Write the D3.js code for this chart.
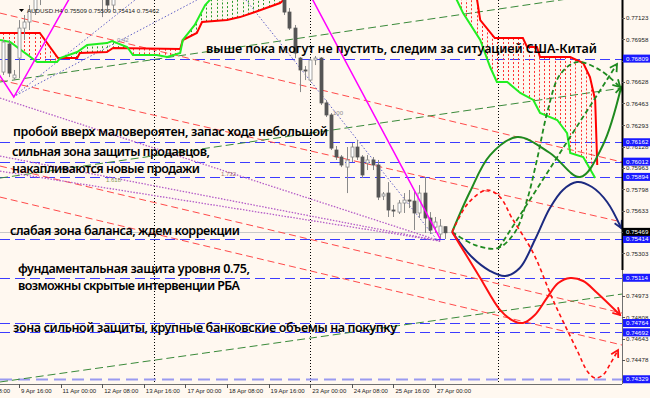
<!DOCTYPE html>
<html><head><meta charset="utf-8">
<script src="https://cdn.jsdelivr.net/npm/d3@7"></script>
<style>
html,body{margin:0;padding:0;background:#fff8f0;}
svg{display:block;}
</style></head><body>
<svg id="c" width="650" height="398"></svg>
<script>
// ---------------- DATA ----------------
const symbol = "AUDUSD.H4";
const lastBarOHLC = [0.75509, 0.75509, 0.75414, 0.75462];
const bidPrice = 0.75469;

const priceTicks = [0.77123,0.76958,0.76793,0.76628,0.76463,0.76293,0.76128,0.75963,0.75798,0.75633,0.75468,0.75303,0.75138,0.74973,0.74808,0.74643,0.74478,0.74313];
const timeTickIdx = [-8,0,8,16,24,32,40,48,56,64,72,80];
const timeTickLabels = ["6 Apr 08:00","9 Apr 16:00","11 Apr 00:00","12 Apr 08:00","13 Apr 16:00","17 Apr 00:00","18 Apr 08:00","19 Apr 16:00","23 Apr 00:00","24 Apr 08:00","25 Apr 16:00","27 Apr 00:00"];
const weekSeparators = [26, 56, 92.1];

const levelPrices = [0.76809,0.76162,0.76012,0.75894,0.75414,0.75114,0.74764,0.74692,0.74329];

// candles: [barIndex, open, high, low, close]
const candles = [
 [-3,0.76705,0.76953,0.76682,0.76937],[-2,0.76922,0.76953,0.76666,0.76697],[-1,0.76659,0.76721,0.76643,0.76682],
 [0,0.76813,0.77107,0.76659,0.77045],[1,0.77045,0.77146,0.76953,0.77092],[2,0.77092,0.77223,0.77030,0.77185],
 [3,0.77185,0.77339,0.77146,0.77301],[4,0.77301,0.77417,0.77223,0.77378],
 [16,0.77301,0.77378,0.77130,0.77285],[17,0.77285,0.77339,0.77169,0.77223],[18,0.77223,0.77301,0.77185,0.77324],
 [51,0.77339,0.77417,0.77146,0.77169],[52,0.77169,0.77200,0.77030,0.77045],[53,0.77045,0.77069,0.76813,0.76852],
 [54,0.76813,0.76821,0.76550,0.76721],[55,0.76721,0.76752,0.76643,0.76713],[56,0.76643,0.76813,0.76628,0.76798],
 [57,0.76798,0.76829,0.76759,0.76813],[58,0.76813,0.76821,0.76450,0.76466],[59,0.76466,0.76489,0.76357,0.76373],
 [60,0.76373,0.76388,0.76102,0.76117],[61,0.76102,0.76133,0.76025,0.76048],[62,0.76048,0.76063,0.75970,0.75986],
 [63,0.75970,0.76125,0.75769,0.76025],[64,0.76048,0.76156,0.76009,0.76125],[65,0.76125,0.76179,0.76025,0.76048],
 [66,0.76048,0.76063,0.75885,0.75909],[67,0.76001,0.76063,0.75947,0.76025],[68,0.76025,0.76048,0.75947,0.75986],
 [69,0.75986,0.76025,0.75715,0.75738],[70,0.75746,0.75777,0.75715,0.75762],[71,0.75769,0.75854,0.75584,0.75638],
 [72,0.75638,0.75677,0.75584,0.75630],[73,0.75622,0.75715,0.75607,0.75692],[74,0.75692,0.75769,0.75615,0.75715],
 [75,0.75715,0.75793,0.75653,0.75707],[76,0.75707,0.75793,0.75483,0.75615],[77,0.75615,0.75831,0.75576,0.75769],
 [78,0.75769,0.75893,0.75460,0.75576],[79,0.75576,0.75622,0.75452,0.75483],[80,0.75506,0.75584,0.75460,0.75545],
 [81,0.75452,0.75568,0.75414,0.75514],[82,0.75509,0.75509,0.75414,0.75462]
];

// Ichimoku cloud borders: [barIndex, price]
const spanRed = [[-3.65,0.77007],[4.0,0.77007],[7.5,0.76813],[11.2,0.76813],[11.7,0.76852],[16.9,0.76860],[18.1,0.76891],[31.0,0.76883],[31.5,0.76953],[34.2,0.77007],[35.2,0.77092],[40.0,0.77107],[42.5,0.77130],[45.4,0.77169],[50.2,0.77239],[52.1,0.77301],[86.7,0.77339],[88.1,0.77262],[88.7,0.77107],[91.5,0.76968],[96.9,0.76968],[97.7,0.76899],[99.6,0.76899],[100.2,0.76821],[106.0,0.76821],[108.5,0.76775],[109.8,0.76666],[110.8,0.76489],[111.2,0.75986]];
const spanGreen = [[-3.65,0.76953],[-1.7,0.76937],[3.5,0.76782],[7.3,0.76782],[7.9,0.76813],[11.2,0.76860],[13.1,0.76914],[16.9,0.76929],[17.9,0.76945],[20.8,0.76899],[21.9,0.76837],[26.5,0.76837],[28.5,0.76821],[31.0,0.76852],[31.5,0.76953],[33.8,0.77069],[35.8,0.77223],[36.7,0.77262],[37.7,0.77339],[82.9,0.77339],[84.2,0.77262],[85.4,0.77161],[88.7,0.76953],[90.6,0.76744],[91.9,0.76628],[93.9,0.76628],[96.4,0.76543],[98.9,0.76489],[100.2,0.76388],[103.5,0.76334],[105.4,0.76233],[106.0,0.76079],[108.5,0.76048],[110.8,0.75885]];

// trend lines: [[idx, price],[idx, price]]
const trendRed = [
 [[-3.65,0.77161],[115.96,0.76009]],
 [[-3.65,0.76643],[115.96,0.75545]],
 [[-3.65,0.75978],[115.96,0.74841]],
 [[-3.65,0.75738],[115.96,0.74594]]
];
const trendGreen = [
 [[-3.65,0.76628],[115.96,0.77332]],
 [[-3.65,0.75885],[115.96,0.76581]],
 [[-3.65,0.74308],[115.96,0.74988]]
];
const fanPurple = [
 [[-3.65,0.75939],[81.0,0.75398]],
 [[-3.65,0.76055],[81.0,0.75398]],
 [[-3.65,0.76504],[81.0,0.75398]]
];
const fanBlue = [
 [[43.65,0.77262],[80.4,0.75406]],
 [[-1.15,0.76512],[34.2,0.77262]],
 [[-1.15,0.76512],[22.3,0.77262]]
];
const zigzag = [[-6,0.76821],[-1,0.76512],[22,0.7815],[31,0.7760],[45,0.7813],[81,0.75414]];

// forecast paths
const fcGreen = [[83.3,0.75468],[86.7,0.75777],[90.6,0.76063],[95.8,0.76202],[102.1,0.76079],[107.9,0.75893],[112.3,0.76141],[115.8,0.76589]];
const fcGreenDash = [[83.3,0.75468],[87.7,0.75367],[92.1,0.75344],[95.4,0.75468],[97.7,0.75715],[99.6,0.76025],[101.7,0.76411],[104.0,0.76682],[107.3,0.76782],[111.7,0.76721],[115.6,0.76589]];
const fcGreenStraight = [[92.3,0.75344],[115.0,0.76767]];
const fcNavy = [[83.3,0.75468],[87.1,0.75274],[90.6,0.75166],[93.5,0.75127],[96.3,0.75189],[99.2,0.75406],[102.1,0.75653],[104.6,0.75793],[107.3,0.75854],[110.2,0.75816],[113.1,0.75700],[115.8,0.75499]];
const fcRed = [[83.3,0.75468],[86.0,0.75290],[88.7,0.75112],[92.5,0.74865],[94.8,0.74787],[96.9,0.74764],[99.2,0.74826],[101.5,0.74957],[103.7,0.75073],[106.0,0.75112],[108.5,0.75089],[111.2,0.74996],[115.6,0.74826]];
const fcRedDash = [[83.3,0.75468],[86.4,0.75692],[90.0,0.75793],[92.5,0.75738],[94.8,0.75576],[98.9,0.75305],[102.7,0.74942],[107.3,0.74555],[109.4,0.74385],[110.8,0.74339],[112.3,0.74362],[113.8,0.74455],[115.2,0.74555]];

const notes = ["выше пока могут не пустить, следим за ситуацией США-Китай",
 "пробой вверх маловероятен, запас хода небольшой",
 "сильная зона защиты продавцов,",
 "накапливаются новые продажи",
 "слабая зона баланса, ждем коррекции",
 "фундаментальная защита уровня 0.75,",
 "возможны скрытые интервенции РБА",
 "зона сильной защиты, крупные банковские объемы на покупку"];
const fibLabels = ["0.42","100","1.618","1.732"];

// ---------------- DRAW ----------------
const W = 650, H = 398, PR = 622, PB = 384;
const svg = d3.select("#c");
const xS = d3.scaleLinear().domain([0, 80]).range([19, 435]);
const yS = d3.scaleLinear().domain([0.74478, 0.77123]).range([360, 18]);
const fmt = d3.format(".5f");

svg.append("rect").attr("width", W).attr("height", H).attr("fill", "#fff8f0");
const defs = svg.append("defs");
defs.append("clipPath").attr("id", "plot").append("rect").attr("x", 0).attr("y", 0).attr("width", PR).attr("height", PB);
function marker(id, color) {
  defs.append("marker").attr("id", id).attr("markerUnits", "userSpaceOnUse")
    .attr("viewBox", "-10 -6 12 12").attr("refX", 0).attr("refY", 0)
    .attr("markerWidth", 12).attr("markerHeight", 12).attr("orient", "auto")
    .append("path").attr("d", "M-7,-4 L0,0 L-7,4").attr("fill", "none")
    .attr("stroke", color).attr("stroke-width", 1.8).attr("stroke-dasharray", "none");
}
marker("aG", "#1f8a1f"); marker("aN", "#1c2a80"); marker("aR", "#ff1010");

const g = svg.append("g").attr("clip-path", "url(#plot)");
const line = d3.line().x(d => xS(d[0])).y(d => yS(d[1]));
const smooth = d3.line().x(d => xS(d[0])).y(d => yS(d[1])).curve(d3.curveCatmullRom.alpha(0.5));

// week separators
g.selectAll(".sep").data(weekSeparators).join("line")
  .attr("x1", d => Math.round(xS(d)) + 0.5).attr("x2", d => Math.round(xS(d)) + 0.5)
  .attr("y1", 0).attr("y2", PB).attr("stroke", "#000").attr("stroke-dasharray", "1,2");

// bid line
g.append("line").attr("x1", 0).attr("x2", PR).attr("y1", Math.round(yS(bidPrice)) + 0.5).attr("y2", Math.round(yS(bidPrice)) + 0.5)
  .attr("stroke", "#c8c8c8");

// horizontal levels
g.selectAll(".lvl").data(levelPrices).join("line")
  .attr("x1", 0).attr("x2", PR)
  .attr("y1", d => Math.round(yS(d)) + 0.5).attr("y2", d => Math.round(yS(d)) + 0.5)
  .attr("stroke", (d, i) => i === levelPrices.length - 1 ? "#9a9af0" : "#3c3cff")
  .attr("stroke-width", (d, i) => i === levelPrices.length - 1 ? 2 : 1)
  .attr("stroke-dasharray", (d, i) => i === levelPrices.length - 1 ? "12,6" : "10,5");

// trend lines
g.selectAll(".tr").data(trendRed).join("path").attr("d", line)
  .attr("fill", "none").attr("stroke", "#ff4a4a").attr("stroke-dasharray", "7,4");
g.selectAll(".tg").data(trendGreen).join("path").attr("d", line)
  .attr("fill", "none").attr("stroke", "#3a8a3a").attr("stroke-dasharray", "8,4");
g.selectAll(".fp").data(fanPurple).join("path").attr("d", line)
  .attr("fill", "none").attr("stroke", "#b45cc8").attr("stroke-width", 1.3).attr("stroke-dasharray", "1.5,1.5");
g.selectAll(".fb").data(fanBlue).join("path").attr("d", line)
  .attr("fill", "none").attr("stroke", "#6060c8").attr("stroke-dasharray", "1.5,2");

// ichimoku cloud hatch
function interp(arr, t) {
  if (t < arr[0][0] || t > arr[arr.length - 1][0]) return null;
  for (let k = 0; k < arr.length - 1; k++) {
    const a = arr[k], b = arr[k + 1];
    if (t >= a[0] && t <= b[0]) return a[1] + (b[1] - a[1]) * (t - a[0]) / (b[0] - a[0] || 1);
  }
  return null;
}
const hatch = [];
for (let i = -3; i <= 111; i++) {
  const r = interp(spanRed, i), gg = interp(spanGreen, i);
  if (r !== null && gg !== null && Math.abs(r - gg) > 1e-6) hatch.push([i, r, gg]);
}
g.selectAll(".h").data(hatch).join("line")
  .attr("x1", d => Math.round(xS(d[0])) + 0.5).attr("x2", d => Math.round(xS(d[0])) + 0.5)
  .attr("y1", d => yS(d[1])).attr("y2", d => yS(d[2]))
  .attr("stroke", d => d[1] > d[2] ? "#ff3030" : "#2a9a2a").attr("stroke-dasharray", "2,2");
g.append("path").datum(spanRed).attr("d", line).attr("fill", "none").attr("stroke", "#ff0000").attr("stroke-width", 2);
g.append("path").datum(spanGreen).attr("d", line).attr("fill", "none").attr("stroke", "#22ee22").attr("stroke-width", 2);

// candles
const cg = g.selectAll(".cd").data(candles).join("g");
cg.append("line").attr("x1", d => Math.round(xS(d[0])) + 0.5).attr("x2", d => Math.round(xS(d[0])) + 0.5)
  .attr("y1", d => yS(d[2])).attr("y2", d => yS(d[3])).attr("stroke", "#8a8a8a");
cg.append("rect").attr("x", d => Math.round(xS(d[0])) - 1).attr("width", 3)
  .attr("y", d => yS(Math.max(d[1], d[4]))).attr("height", d => Math.max(1, Math.abs(yS(d[1]) - yS(d[4]))))
  .attr("fill", d => d[4] >= d[1] ? "#ffffff" : "#555555")
  .attr("stroke", d => d[4] >= d[1] ? "#8a8a8a" : "#555555").attr("stroke-width", 0.8);

// zigzag
g.append("path").datum(zigzag).attr("d", line).attr("fill", "none").attr("stroke", "#ff00ff").attr("stroke-width", 1.5);

// forecasts
g.append("path").datum(fcGreenStraight).attr("d", line).attr("fill", "none").attr("stroke", "#1f8a1f").attr("stroke-width", 1.8).attr("stroke-dasharray", "5,3").attr("marker-end", "url(#aG)");
g.append("path").datum(fcGreenDash).attr("d", smooth).attr("fill", "none").attr("stroke", "#1f8a1f").attr("stroke-width", 1.8).attr("stroke-dasharray", "5,3").attr("marker-end", "url(#aG)");
g.append("path").datum(fcGreen).attr("d", smooth).attr("fill", "none").attr("stroke", "#1f8a1f").attr("stroke-width", 2).attr("marker-end", "url(#aG)");
g.append("path").datum(fcNavy).attr("d", smooth).attr("fill", "none").attr("stroke", "#1c2a80").attr("stroke-width", 2).attr("marker-end", "url(#aN)");
g.append("path").datum(fcRedDash).attr("d", smooth).attr("fill", "none").attr("stroke", "#ff1010").attr("stroke-width", 1.6).attr("stroke-dasharray", "4,3").attr("marker-end", "url(#aR)");
g.append("path").datum(fcRed).attr("d", smooth).attr("fill", "none").attr("stroke", "#ff1010").attr("stroke-width", 2).attr("marker-end", "url(#aR)");

// fib labels
const fibPos = [[117, 42, "#8a8aa8"], [333, 115, "#8a8a8a"], [106, 182, "#8a9a5a"], [221, 176, "#a07070"]];
g.selectAll(".fl").data(fibLabels).join("text").text(d => d)
  .attr("x", (d, i) => fibPos[i][0]).attr("y", (d, i) => fibPos[i][1])
  .attr("fill", (d, i) => fibPos[i][2]).attr("font-family", "Liberation Sans, Arial, sans-serif").attr("font-size", 6);

// annotations
const notePos = [[206, 53, 391], [13, 136, 315], [12, 156, 198], [12, 173, 188], [10, 235, 230], [18, 273, 232], [18, 290, 222], [13, 332, 384]];
svg.selectAll(".note").data(notes).join("text").text(d => d)
  .attr("x", (d, i) => notePos[i][0]).attr("y", (d, i) => notePos[i][1])
  .attr("textLength", (d, i) => notePos[i][2]).attr("lengthAdjust", "spacing")
  .attr("font-family", "Noto Sans, DejaVu Sans, sans-serif").attr("font-weight", 600)
  .attr("font-size", 12.5).attr("fill", "#000");

// header
svg.append("path").attr("d", "M19,9 L24,9 L21.5,12 Z").attr("fill", "#000");
svg.append("text").attr("x", 27).attr("y", 13)
  .text(symbol + "  " + lastBarOHLC.map(fmt).join(" "))
  .attr("font-family", "Liberation Sans, Arial, sans-serif").attr("font-size", 6.2).attr("fill", "#222");

// axes borders
svg.append("line").attr("x1", 0).attr("x2", PR).attr("y1", PB + 0.5).attr("y2", PB + 0.5).attr("stroke", "#707070");
svg.append("line").attr("x1", PR + 0.5).attr("x2", PR + 0.5).attr("y1", 0).attr("y2", PB).attr("stroke", "#707070");
svg.append("line").attr("x1", PR + 0.5).attr("x2", PR + 0.5).attr("y1", 0).attr("y2", 270).attr("stroke", "#000").attr("stroke-width", 2);

// time axis
const ta = svg.append("g");
ta.selectAll("line").data(timeTickIdx).join("line")
  .attr("x1", d => Math.round(xS(d)) + 0.5).attr("x2", d => Math.round(xS(d)) + 0.5)
  .attr("y1", PB).attr("y2", PB + 4).attr("stroke", "#555");
ta.selectAll("text").data(timeTickIdx).join("text")
  .attr("x", d => xS(d) + 2).attr("y", 393).text((d, i) => timeTickLabels[i])
  .attr("font-family", "Liberation Sans, Arial, sans-serif").attr("font-size", 6).attr("fill", "#222");

// price axis (tick labels fully covered by a level box are not drawn)
const boxes = levelPrices.map(p => [p, "#1a1aff"]).concat([[bidPrice, "#000"]]);
const visibleTicks = priceTicks.filter(t => boxes.every(b => Math.abs(yS(t) - yS(b[0])) >= 4));
const pa = svg.append("g");
pa.selectAll("line").data(priceTicks).join("line")
  .attr("x1", PR).attr("x2", PR + 3).attr("y1", d => Math.round(yS(d)) + 0.5).attr("y2", d => Math.round(yS(d)) + 0.5)
  .attr("stroke", "#555");
pa.selectAll("text").data(visibleTicks).join("text")
  .attr("x", 626).attr("y", d => yS(d) + 2.2).text(d => fmt(d))
  .attr("font-family", "Liberation Sans, Arial, sans-serif").attr("font-size", 6.2).attr("fill", "#222");

// level boxes
const bx = svg.selectAll(".bx").data(boxes).join("g");
bx.append("rect").attr("x", 623).attr("width", 27).attr("y", d => yS(d[0]) - 4).attr("height", 8).attr("fill", d => d[1]);
bx.append("text").attr("x", 626).attr("y", d => yS(d[0]) + 2.2).text(d => fmt(d[0]))
  .attr("font-family", "Liberation Sans, Arial, sans-serif").attr("font-size", 6.2).attr("fill", "#fff");
</script>
</body></html>
